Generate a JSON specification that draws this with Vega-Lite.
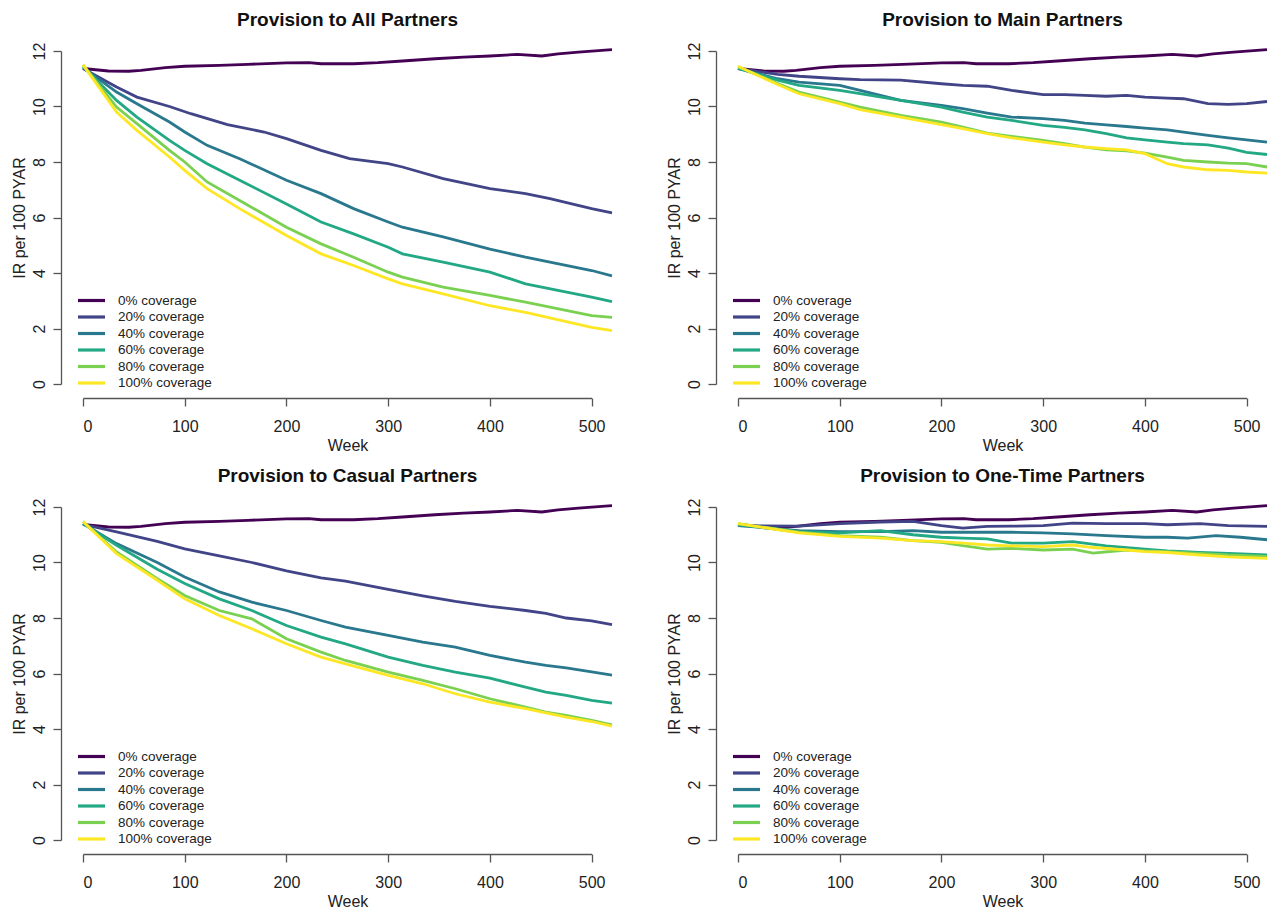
{
  "$schema": "https://vega.github.io/schema/vega-lite/v6.json",
  "background": "white",
  "padding": {"left": 11, "top": 11, "right": 0, "bottom": 0},
  "config": {
    "font": "Liberation Sans",
    "view": {"stroke": null},
    "title": {"fontSize": 19, "fontWeight": "bold", "color": "#111", "anchor": "middle", "offset": 12},
    "axis": {"grid": false, "domainColor": "#555", "tickColor": "#555", "labelColor": "#222", "titleColor": "#222", "labelFontSize": 16, "titleFontSize": 16, "titleFontWeight": "normal", "tickSize": 8, "domainWidth": 1.3, "tickWidth": 1.3},
    "axisX": {"offset": 14, "labelPadding": 12, "titlePadding": 3, "domainDash": [508.5, 1000]},
    "axisY": {"offset": 22, "labelAngle": -90, "labelPadding": 6, "titlePadding": 4},
    "legend": {"orient": "none", "legendX": 0, "legendY": 241, "symbolType": "M-2,0H2", "symbolSize": 182, "symbolStrokeWidth": 3.2, "labelFontSize": 13.5, "labelColor": "#222", "rowPadding": 1.5, "labelOffset": 18, "padding": 0}
  },
  "columns": 2,
  "bounds": "flush",
  "spacing": {"row": 123, "column": 126},
  "resolve": {"legend": {"color": "independent"}},
  "data": {"name": "d"},
  "datasets": {
    "d": [
      {"p":"B","c":"0% coverage","w":0,"v":11.37},{"p":"B","c":"0% coverage","w":25,"v":11.28},{"p":"B","c":"0% coverage","w":45,"v":11.27},{"p":"B","c":"0% coverage","w":57,"v":11.3},{"p":"B","c":"0% coverage","w":81,"v":11.4},{"p":"B","c":"0% coverage","w":100,"v":11.45},{"p":"B","c":"0% coverage","w":134,"v":11.48},{"p":"B","c":"0% coverage","w":162,"v":11.52},{"p":"B","c":"0% coverage","w":200,"v":11.57},{"p":"B","c":"0% coverage","w":222,"v":11.58},{"p":"B","c":"0% coverage","w":234,"v":11.54},{"p":"B","c":"0% coverage","w":266,"v":11.54},{"p":"B","c":"0% coverage","w":290,"v":11.58},{"p":"B","c":"0% coverage","w":314,"v":11.64},{"p":"B","c":"0% coverage","w":346,"v":11.72},{"p":"B","c":"0% coverage","w":374,"v":11.78},{"p":"B","c":"0% coverage","w":400,"v":11.82},{"p":"B","c":"0% coverage","w":427,"v":11.88},{"p":"B","c":"0% coverage","w":451,"v":11.82},{"p":"B","c":"0% coverage","w":467,"v":11.9},{"p":"B","c":"0% coverage","w":487,"v":11.96},{"p":"B","c":"0% coverage","w":520,"v":12.05},

      {"p":"A","c":"20% coverage","w":0,"v":11.37},{"p":"A","c":"20% coverage","w":33,"v":10.7},{"p":"A","c":"20% coverage","w":53,"v":10.34},{"p":"A","c":"20% coverage","w":85,"v":10.0},{"p":"A","c":"20% coverage","w":106,"v":9.74},{"p":"A","c":"20% coverage","w":142,"v":9.35},{"p":"A","c":"20% coverage","w":178,"v":9.08},{"p":"A","c":"20% coverage","w":200,"v":8.84},{"p":"A","c":"20% coverage","w":234,"v":8.42},{"p":"A","c":"20% coverage","w":262,"v":8.12},{"p":"A","c":"20% coverage","w":300,"v":7.94},{"p":"A","c":"20% coverage","w":314,"v":7.82},{"p":"A","c":"20% coverage","w":354,"v":7.4},{"p":"A","c":"20% coverage","w":400,"v":7.04},{"p":"A","c":"20% coverage","w":435,"v":6.86},{"p":"A","c":"20% coverage","w":459,"v":6.68},{"p":"A","c":"20% coverage","w":500,"v":6.32},{"p":"A","c":"20% coverage","w":520,"v":6.17},
      {"p":"A","c":"40% coverage","w":0,"v":11.4},{"p":"A","c":"40% coverage","w":33,"v":10.52},{"p":"A","c":"40% coverage","w":53,"v":10.1},{"p":"A","c":"40% coverage","w":85,"v":9.44},{"p":"A","c":"40% coverage","w":100,"v":9.08},{"p":"A","c":"40% coverage","w":122,"v":8.6},{"p":"A","c":"40% coverage","w":154,"v":8.12},{"p":"A","c":"40% coverage","w":200,"v":7.34},{"p":"A","c":"40% coverage","w":234,"v":6.86},{"p":"A","c":"40% coverage","w":266,"v":6.32},{"p":"A","c":"40% coverage","w":300,"v":5.84},{"p":"A","c":"40% coverage","w":314,"v":5.65},{"p":"A","c":"40% coverage","w":354,"v":5.3},{"p":"A","c":"40% coverage","w":400,"v":4.86},{"p":"A","c":"40% coverage","w":435,"v":4.57},{"p":"A","c":"40% coverage","w":500,"v":4.09},{"p":"A","c":"40% coverage","w":520,"v":3.9},
      {"p":"A","c":"60% coverage","w":0,"v":11.45},{"p":"A","c":"60% coverage","w":33,"v":10.22},{"p":"A","c":"60% coverage","w":53,"v":9.62},{"p":"A","c":"60% coverage","w":85,"v":8.78},{"p":"A","c":"60% coverage","w":100,"v":8.42},{"p":"A","c":"60% coverage","w":122,"v":7.94},{"p":"A","c":"60% coverage","w":154,"v":7.34},{"p":"A","c":"60% coverage","w":200,"v":6.49},{"p":"A","c":"60% coverage","w":234,"v":5.84},{"p":"A","c":"60% coverage","w":266,"v":5.41},{"p":"A","c":"60% coverage","w":300,"v":4.93},{"p":"A","c":"60% coverage","w":314,"v":4.69},{"p":"A","c":"60% coverage","w":354,"v":4.39},{"p":"A","c":"60% coverage","w":400,"v":4.03},{"p":"A","c":"60% coverage","w":435,"v":3.61},{"p":"A","c":"60% coverage","w":500,"v":3.13},{"p":"A","c":"60% coverage","w":520,"v":2.97},
      {"p":"A","c":"80% coverage","w":0,"v":11.5},{"p":"A","c":"80% coverage","w":33,"v":9.98},{"p":"A","c":"80% coverage","w":53,"v":9.38},{"p":"A","c":"80% coverage","w":85,"v":8.42},{"p":"A","c":"80% coverage","w":100,"v":8.0},{"p":"A","c":"80% coverage","w":122,"v":7.28},{"p":"A","c":"80% coverage","w":154,"v":6.61},{"p":"A","c":"80% coverage","w":200,"v":5.65},{"p":"A","c":"80% coverage","w":234,"v":5.05},{"p":"A","c":"80% coverage","w":266,"v":4.57},{"p":"A","c":"80% coverage","w":300,"v":4.03},{"p":"A","c":"80% coverage","w":314,"v":3.85},{"p":"A","c":"80% coverage","w":354,"v":3.49},{"p":"A","c":"80% coverage","w":400,"v":3.19},{"p":"A","c":"80% coverage","w":435,"v":2.95},{"p":"A","c":"80% coverage","w":500,"v":2.46},{"p":"A","c":"80% coverage","w":520,"v":2.4},
      {"p":"A","c":"100% coverage","w":0,"v":11.5},{"p":"A","c":"100% coverage","w":33,"v":9.8},{"p":"A","c":"100% coverage","w":53,"v":9.14},{"p":"A","c":"100% coverage","w":85,"v":8.18},{"p":"A","c":"100% coverage","w":100,"v":7.7},{"p":"A","c":"100% coverage","w":122,"v":7.04},{"p":"A","c":"100% coverage","w":154,"v":6.32},{"p":"A","c":"100% coverage","w":200,"v":5.35},{"p":"A","c":"100% coverage","w":234,"v":4.69},{"p":"A","c":"100% coverage","w":266,"v":4.27},{"p":"A","c":"100% coverage","w":300,"v":3.79},{"p":"A","c":"100% coverage","w":314,"v":3.61},{"p":"A","c":"100% coverage","w":354,"v":3.25},{"p":"A","c":"100% coverage","w":400,"v":2.82},{"p":"A","c":"100% coverage","w":435,"v":2.58},{"p":"A","c":"100% coverage","w":500,"v":2.04},{"p":"A","c":"100% coverage","w":520,"v":1.92},

      {"p":"M","c":"20% coverage","w":0,"v":11.37},{"p":"M","c":"20% coverage","w":39,"v":11.16},{"p":"M","c":"20% coverage","w":60,"v":11.09},{"p":"M","c":"20% coverage","w":100,"v":11.0},{"p":"M","c":"20% coverage","w":120,"v":10.97},{"p":"M","c":"20% coverage","w":160,"v":10.95},{"p":"M","c":"20% coverage","w":200,"v":10.82},{"p":"M","c":"20% coverage","w":221,"v":10.76},{"p":"M","c":"20% coverage","w":245,"v":10.73},{"p":"M","c":"20% coverage","w":269,"v":10.58},{"p":"M","c":"20% coverage","w":300,"v":10.43},{"p":"M","c":"20% coverage","w":321,"v":10.43},{"p":"M","c":"20% coverage","w":341,"v":10.4},{"p":"M","c":"20% coverage","w":362,"v":10.37},{"p":"M","c":"20% coverage","w":382,"v":10.4},{"p":"M","c":"20% coverage","w":400,"v":10.34},{"p":"M","c":"20% coverage","w":422,"v":10.3},{"p":"M","c":"20% coverage","w":438,"v":10.28},{"p":"M","c":"20% coverage","w":462,"v":10.1},{"p":"M","c":"20% coverage","w":482,"v":10.08},{"p":"M","c":"20% coverage","w":500,"v":10.1},{"p":"M","c":"20% coverage","w":520,"v":10.18},
      {"p":"M","c":"40% coverage","w":0,"v":11.37},{"p":"M","c":"40% coverage","w":39,"v":11.0},{"p":"M","c":"40% coverage","w":60,"v":10.88},{"p":"M","c":"40% coverage","w":100,"v":10.76},{"p":"M","c":"40% coverage","w":120,"v":10.58},{"p":"M","c":"40% coverage","w":160,"v":10.22},{"p":"M","c":"40% coverage","w":200,"v":10.04},{"p":"M","c":"40% coverage","w":221,"v":9.92},{"p":"M","c":"40% coverage","w":245,"v":9.76},{"p":"M","c":"40% coverage","w":269,"v":9.62},{"p":"M","c":"40% coverage","w":300,"v":9.56},{"p":"M","c":"40% coverage","w":321,"v":9.5},{"p":"M","c":"40% coverage","w":341,"v":9.4},{"p":"M","c":"40% coverage","w":362,"v":9.34},{"p":"M","c":"40% coverage","w":382,"v":9.28},{"p":"M","c":"40% coverage","w":400,"v":9.22},{"p":"M","c":"40% coverage","w":422,"v":9.16},{"p":"M","c":"40% coverage","w":438,"v":9.08},{"p":"M","c":"40% coverage","w":462,"v":8.96},{"p":"M","c":"40% coverage","w":482,"v":8.87},{"p":"M","c":"40% coverage","w":500,"v":8.8},{"p":"M","c":"40% coverage","w":520,"v":8.72},
      {"p":"M","c":"60% coverage","w":0,"v":11.37},{"p":"M","c":"60% coverage","w":39,"v":10.95},{"p":"M","c":"60% coverage","w":60,"v":10.76},{"p":"M","c":"60% coverage","w":100,"v":10.58},{"p":"M","c":"60% coverage","w":120,"v":10.46},{"p":"M","c":"60% coverage","w":160,"v":10.22},{"p":"M","c":"60% coverage","w":200,"v":9.98},{"p":"M","c":"60% coverage","w":221,"v":9.8},{"p":"M","c":"60% coverage","w":245,"v":9.62},{"p":"M","c":"60% coverage","w":269,"v":9.5},{"p":"M","c":"60% coverage","w":300,"v":9.32},{"p":"M","c":"60% coverage","w":321,"v":9.25},{"p":"M","c":"60% coverage","w":341,"v":9.16},{"p":"M","c":"60% coverage","w":362,"v":9.02},{"p":"M","c":"60% coverage","w":382,"v":8.87},{"p":"M","c":"60% coverage","w":400,"v":8.8},{"p":"M","c":"60% coverage","w":422,"v":8.72},{"p":"M","c":"60% coverage","w":438,"v":8.66},{"p":"M","c":"60% coverage","w":462,"v":8.62},{"p":"M","c":"60% coverage","w":482,"v":8.5},{"p":"M","c":"60% coverage","w":500,"v":8.35},{"p":"M","c":"60% coverage","w":520,"v":8.27},
      {"p":"M","c":"80% coverage","w":0,"v":11.43},{"p":"M","c":"80% coverage","w":39,"v":10.83},{"p":"M","c":"80% coverage","w":60,"v":10.52},{"p":"M","c":"80% coverage","w":100,"v":10.16},{"p":"M","c":"80% coverage","w":120,"v":9.98},{"p":"M","c":"80% coverage","w":160,"v":9.68},{"p":"M","c":"80% coverage","w":200,"v":9.44},{"p":"M","c":"80% coverage","w":221,"v":9.26},{"p":"M","c":"80% coverage","w":245,"v":9.04},{"p":"M","c":"80% coverage","w":269,"v":8.92},{"p":"M","c":"80% coverage","w":300,"v":8.78},{"p":"M","c":"80% coverage","w":321,"v":8.66},{"p":"M","c":"80% coverage","w":341,"v":8.54},{"p":"M","c":"80% coverage","w":362,"v":8.44},{"p":"M","c":"80% coverage","w":382,"v":8.4},{"p":"M","c":"80% coverage","w":400,"v":8.32},{"p":"M","c":"80% coverage","w":422,"v":8.18},{"p":"M","c":"80% coverage","w":438,"v":8.06},{"p":"M","c":"80% coverage","w":462,"v":8.0},{"p":"M","c":"80% coverage","w":482,"v":7.96},{"p":"M","c":"80% coverage","w":500,"v":7.94},{"p":"M","c":"80% coverage","w":520,"v":7.82},
      {"p":"M","c":"100% coverage","w":0,"v":11.45},{"p":"M","c":"100% coverage","w":39,"v":10.79},{"p":"M","c":"100% coverage","w":60,"v":10.46},{"p":"M","c":"100% coverage","w":100,"v":10.1},{"p":"M","c":"100% coverage","w":120,"v":9.89},{"p":"M","c":"100% coverage","w":160,"v":9.62},{"p":"M","c":"100% coverage","w":200,"v":9.35},{"p":"M","c":"100% coverage","w":221,"v":9.2},{"p":"M","c":"100% coverage","w":245,"v":9.02},{"p":"M","c":"100% coverage","w":269,"v":8.87},{"p":"M","c":"100% coverage","w":300,"v":8.72},{"p":"M","c":"100% coverage","w":321,"v":8.62},{"p":"M","c":"100% coverage","w":341,"v":8.54},{"p":"M","c":"100% coverage","w":362,"v":8.48},{"p":"M","c":"100% coverage","w":382,"v":8.44},{"p":"M","c":"100% coverage","w":400,"v":8.3},{"p":"M","c":"100% coverage","w":422,"v":7.94},{"p":"M","c":"100% coverage","w":438,"v":7.82},{"p":"M","c":"100% coverage","w":462,"v":7.72},{"p":"M","c":"100% coverage","w":482,"v":7.7},{"p":"M","c":"100% coverage","w":500,"v":7.64},{"p":"M","c":"100% coverage","w":520,"v":7.6},

      {"p":"C","c":"20% coverage","w":0,"v":11.37},{"p":"C","c":"20% coverage","w":33,"v":11.1},{"p":"C","c":"20% coverage","w":73,"v":10.76},{"p":"C","c":"20% coverage","w":100,"v":10.49},{"p":"C","c":"20% coverage","w":134,"v":10.24},{"p":"C","c":"20% coverage","w":166,"v":10.0},{"p":"C","c":"20% coverage","w":200,"v":9.7},{"p":"C","c":"20% coverage","w":234,"v":9.45},{"p":"C","c":"20% coverage","w":258,"v":9.33},{"p":"C","c":"20% coverage","w":300,"v":9.03},{"p":"C","c":"20% coverage","w":334,"v":8.8},{"p":"C","c":"20% coverage","w":366,"v":8.6},{"p":"C","c":"20% coverage","w":400,"v":8.42},{"p":"C","c":"20% coverage","w":435,"v":8.27},{"p":"C","c":"20% coverage","w":455,"v":8.17},{"p":"C","c":"20% coverage","w":475,"v":8.0},{"p":"C","c":"20% coverage","w":500,"v":7.9},{"p":"C","c":"20% coverage","w":520,"v":7.76},
      {"p":"C","c":"40% coverage","w":0,"v":11.4},{"p":"C","c":"40% coverage","w":33,"v":10.68},{"p":"C","c":"40% coverage","w":73,"v":10.0},{"p":"C","c":"40% coverage","w":100,"v":9.48},{"p":"C","c":"40% coverage","w":134,"v":8.94},{"p":"C","c":"40% coverage","w":166,"v":8.57},{"p":"C","c":"40% coverage","w":200,"v":8.27},{"p":"C","c":"40% coverage","w":234,"v":7.91},{"p":"C","c":"40% coverage","w":258,"v":7.67},{"p":"C","c":"40% coverage","w":300,"v":7.37},{"p":"C","c":"40% coverage","w":334,"v":7.13},{"p":"C","c":"40% coverage","w":366,"v":6.95},{"p":"C","c":"40% coverage","w":400,"v":6.65},{"p":"C","c":"40% coverage","w":435,"v":6.41},{"p":"C","c":"40% coverage","w":455,"v":6.29},{"p":"C","c":"40% coverage","w":475,"v":6.2},{"p":"C","c":"40% coverage","w":500,"v":6.06},{"p":"C","c":"40% coverage","w":520,"v":5.94},
      {"p":"C","c":"60% coverage","w":0,"v":11.4},{"p":"C","c":"60% coverage","w":33,"v":10.62},{"p":"C","c":"60% coverage","w":73,"v":9.76},{"p":"C","c":"60% coverage","w":100,"v":9.24},{"p":"C","c":"60% coverage","w":134,"v":8.69},{"p":"C","c":"60% coverage","w":166,"v":8.27},{"p":"C","c":"60% coverage","w":200,"v":7.73},{"p":"C","c":"60% coverage","w":234,"v":7.31},{"p":"C","c":"60% coverage","w":258,"v":7.07},{"p":"C","c":"60% coverage","w":300,"v":6.59},{"p":"C","c":"60% coverage","w":334,"v":6.29},{"p":"C","c":"60% coverage","w":366,"v":6.05},{"p":"C","c":"60% coverage","w":400,"v":5.83},{"p":"C","c":"60% coverage","w":435,"v":5.51},{"p":"C","c":"60% coverage","w":455,"v":5.33},{"p":"C","c":"60% coverage","w":475,"v":5.21},{"p":"C","c":"60% coverage","w":500,"v":5.03},{"p":"C","c":"60% coverage","w":520,"v":4.93},
      {"p":"C","c":"80% coverage","w":0,"v":11.48},{"p":"C","c":"80% coverage","w":33,"v":10.38},{"p":"C","c":"80% coverage","w":73,"v":9.42},{"p":"C","c":"80% coverage","w":100,"v":8.81},{"p":"C","c":"80% coverage","w":134,"v":8.27},{"p":"C","c":"80% coverage","w":166,"v":7.97},{"p":"C","c":"80% coverage","w":200,"v":7.25},{"p":"C","c":"80% coverage","w":234,"v":6.77},{"p":"C","c":"80% coverage","w":258,"v":6.47},{"p":"C","c":"80% coverage","w":300,"v":6.05},{"p":"C","c":"80% coverage","w":334,"v":5.75},{"p":"C","c":"80% coverage","w":366,"v":5.45},{"p":"C","c":"80% coverage","w":400,"v":5.09},{"p":"C","c":"80% coverage","w":435,"v":4.79},{"p":"C","c":"80% coverage","w":455,"v":4.61},{"p":"C","c":"80% coverage","w":475,"v":4.49},{"p":"C","c":"80% coverage","w":500,"v":4.31},{"p":"C","c":"80% coverage","w":520,"v":4.15},
      {"p":"C","c":"100% coverage","w":0,"v":11.48},{"p":"C","c":"100% coverage","w":33,"v":10.32},{"p":"C","c":"100% coverage","w":73,"v":9.36},{"p":"C","c":"100% coverage","w":100,"v":8.69},{"p":"C","c":"100% coverage","w":134,"v":8.09},{"p":"C","c":"100% coverage","w":166,"v":7.61},{"p":"C","c":"100% coverage","w":200,"v":7.07},{"p":"C","c":"100% coverage","w":234,"v":6.59},{"p":"C","c":"100% coverage","w":258,"v":6.35},{"p":"C","c":"100% coverage","w":300,"v":5.93},{"p":"C","c":"100% coverage","w":334,"v":5.63},{"p":"C","c":"100% coverage","w":366,"v":5.27},{"p":"C","c":"100% coverage","w":400,"v":4.97},{"p":"C","c":"100% coverage","w":435,"v":4.73},{"p":"C","c":"100% coverage","w":455,"v":4.58},{"p":"C","c":"100% coverage","w":475,"v":4.43},{"p":"C","c":"100% coverage","w":500,"v":4.27},{"p":"C","c":"100% coverage","w":520,"v":4.1},

      {"p":"O","c":"20% coverage","w":0,"v":11.33},{"p":"O","c":"20% coverage","w":60,"v":11.31},{"p":"O","c":"20% coverage","w":100,"v":11.4},{"p":"O","c":"20% coverage","w":140,"v":11.46},{"p":"O","c":"20% coverage","w":172,"v":11.48},{"p":"O","c":"20% coverage","w":200,"v":11.33},{"p":"O","c":"20% coverage","w":221,"v":11.24},{"p":"O","c":"20% coverage","w":245,"v":11.3},{"p":"O","c":"20% coverage","w":269,"v":11.31},{"p":"O","c":"20% coverage","w":300,"v":11.33},{"p":"O","c":"20% coverage","w":329,"v":11.42},{"p":"O","c":"20% coverage","w":362,"v":11.4},{"p":"O","c":"20% coverage","w":400,"v":11.4},{"p":"O","c":"20% coverage","w":422,"v":11.36},{"p":"O","c":"20% coverage","w":454,"v":11.4},{"p":"O","c":"20% coverage","w":482,"v":11.33},{"p":"O","c":"20% coverage","w":520,"v":11.3},
      {"p":"O","c":"40% coverage","w":0,"v":11.33},{"p":"O","c":"40% coverage","w":60,"v":11.15},{"p":"O","c":"40% coverage","w":100,"v":11.11},{"p":"O","c":"40% coverage","w":140,"v":11.11},{"p":"O","c":"40% coverage","w":172,"v":11.15},{"p":"O","c":"40% coverage","w":200,"v":11.09},{"p":"O","c":"40% coverage","w":221,"v":11.09},{"p":"O","c":"40% coverage","w":245,"v":11.09},{"p":"O","c":"40% coverage","w":269,"v":11.09},{"p":"O","c":"40% coverage","w":300,"v":11.07},{"p":"O","c":"40% coverage","w":329,"v":11.03},{"p":"O","c":"40% coverage","w":362,"v":10.97},{"p":"O","c":"40% coverage","w":400,"v":10.91},{"p":"O","c":"40% coverage","w":422,"v":10.91},{"p":"O","c":"40% coverage","w":442,"v":10.88},{"p":"O","c":"40% coverage","w":470,"v":10.97},{"p":"O","c":"40% coverage","w":494,"v":10.91},{"p":"O","c":"40% coverage","w":520,"v":10.82},
      {"p":"O","c":"60% coverage","w":0,"v":11.36},{"p":"O","c":"60% coverage","w":60,"v":11.11},{"p":"O","c":"60% coverage","w":100,"v":11.07},{"p":"O","c":"60% coverage","w":140,"v":11.15},{"p":"O","c":"60% coverage","w":172,"v":11.0},{"p":"O","c":"60% coverage","w":200,"v":10.91},{"p":"O","c":"60% coverage","w":221,"v":10.88},{"p":"O","c":"60% coverage","w":245,"v":10.85},{"p":"O","c":"60% coverage","w":269,"v":10.7},{"p":"O","c":"60% coverage","w":300,"v":10.7},{"p":"O","c":"60% coverage","w":329,"v":10.75},{"p":"O","c":"60% coverage","w":362,"v":10.6},{"p":"O","c":"60% coverage","w":400,"v":10.48},{"p":"O","c":"60% coverage","w":422,"v":10.42},{"p":"O","c":"60% coverage","w":454,"v":10.36},{"p":"O","c":"60% coverage","w":482,"v":10.33},{"p":"O","c":"60% coverage","w":520,"v":10.27},
      {"p":"O","c":"80% coverage","w":0,"v":11.4},{"p":"O","c":"80% coverage","w":60,"v":11.09},{"p":"O","c":"80% coverage","w":100,"v":10.97},{"p":"O","c":"80% coverage","w":140,"v":10.91},{"p":"O","c":"80% coverage","w":172,"v":10.79},{"p":"O","c":"80% coverage","w":200,"v":10.73},{"p":"O","c":"80% coverage","w":221,"v":10.61},{"p":"O","c":"80% coverage","w":245,"v":10.48},{"p":"O","c":"80% coverage","w":269,"v":10.51},{"p":"O","c":"80% coverage","w":300,"v":10.45},{"p":"O","c":"80% coverage","w":329,"v":10.48},{"p":"O","c":"80% coverage","w":349,"v":10.34},{"p":"O","c":"80% coverage","w":382,"v":10.45},{"p":"O","c":"80% coverage","w":400,"v":10.42},{"p":"O","c":"80% coverage","w":422,"v":10.39},{"p":"O","c":"80% coverage","w":454,"v":10.33},{"p":"O","c":"80% coverage","w":482,"v":10.27},{"p":"O","c":"80% coverage","w":520,"v":10.22},
      {"p":"O","c":"100% coverage","w":0,"v":11.4},{"p":"O","c":"100% coverage","w":60,"v":11.07},{"p":"O","c":"100% coverage","w":100,"v":10.94},{"p":"O","c":"100% coverage","w":140,"v":10.88},{"p":"O","c":"100% coverage","w":172,"v":10.79},{"p":"O","c":"100% coverage","w":200,"v":10.75},{"p":"O","c":"100% coverage","w":221,"v":10.7},{"p":"O","c":"100% coverage","w":245,"v":10.63},{"p":"O","c":"100% coverage","w":269,"v":10.6},{"p":"O","c":"100% coverage","w":300,"v":10.57},{"p":"O","c":"100% coverage","w":329,"v":10.63},{"p":"O","c":"100% coverage","w":349,"v":10.54},{"p":"O","c":"100% coverage","w":382,"v":10.45},{"p":"O","c":"100% coverage","w":400,"v":10.39},{"p":"O","c":"100% coverage","w":422,"v":10.36},{"p":"O","c":"100% coverage","w":454,"v":10.27},{"p":"O","c":"100% coverage","w":482,"v":10.2},{"p":"O","c":"100% coverage","w":520,"v":10.15}
    ]
  },
  "concat": [
    {
      "title": "Provision to All Partners",
      "width": 529, "height": 333,
      "transform": [{"filter": "datum.p == 'B' || datum.p == 'A'"}],
      "mark": {"type": "line", "strokeWidth": 2.8, "clip": false},
      "encoding": {
        "x": {"field": "w", "type": "quantitative", "title": "Week", "scale": {"domain": [0, 520], "nice": false, "zero": false}, "axis": {"values": [0, 100, 200, 300, 400, 500]}},
        "y": {"field": "v", "type": "quantitative", "title": "IR per 100 PYAR", "scale": {"domain": [0, 12], "nice": false}, "axis": {"values": [0, 2, 4, 6, 8, 10, 12]}},
        "color": {"field": "c", "type": "nominal", "title": null, "scale": {"domain": ["0% coverage", "20% coverage", "40% coverage", "60% coverage", "80% coverage", "100% coverage"], "range": ["#440154", "#414487", "#2A788E", "#22A884", "#7AD151", "#FDE725"]}}
      }
    },
    {
      "title": "Provision to Main Partners",
      "width": 529, "height": 333,
      "transform": [{"filter": "datum.p == 'B' || datum.p == 'M'"}],
      "mark": {"type": "line", "strokeWidth": 2.8, "clip": false},
      "encoding": {
        "x": {"field": "w", "type": "quantitative", "title": "Week", "scale": {"domain": [0, 520], "nice": false, "zero": false}, "axis": {"values": [0, 100, 200, 300, 400, 500]}},
        "y": {"field": "v", "type": "quantitative", "title": "IR per 100 PYAR", "scale": {"domain": [0, 12], "nice": false}, "axis": {"values": [0, 2, 4, 6, 8, 10, 12]}},
        "color": {"field": "c", "type": "nominal", "title": null, "scale": {"domain": ["0% coverage", "20% coverage", "40% coverage", "60% coverage", "80% coverage", "100% coverage"], "range": ["#440154", "#414487", "#2A788E", "#22A884", "#7AD151", "#FDE725"]}}
      }
    },
    {
      "title": "Provision to Casual Partners",
      "width": 529, "height": 333,
      "transform": [{"filter": "datum.p == 'B' || datum.p == 'C'"}],
      "mark": {"type": "line", "strokeWidth": 2.8, "clip": false},
      "encoding": {
        "x": {"field": "w", "type": "quantitative", "title": "Week", "scale": {"domain": [0, 520], "nice": false, "zero": false}, "axis": {"values": [0, 100, 200, 300, 400, 500]}},
        "y": {"field": "v", "type": "quantitative", "title": "IR per 100 PYAR", "scale": {"domain": [0, 12], "nice": false}, "axis": {"values": [0, 2, 4, 6, 8, 10, 12]}},
        "color": {"field": "c", "type": "nominal", "title": null, "scale": {"domain": ["0% coverage", "20% coverage", "40% coverage", "60% coverage", "80% coverage", "100% coverage"], "range": ["#440154", "#414487", "#2A788E", "#22A884", "#7AD151", "#FDE725"]}}
      }
    },
    {
      "title": "Provision to One-Time Partners",
      "width": 529, "height": 333,
      "transform": [{"filter": "datum.p == 'B' || datum.p == 'O'"}],
      "mark": {"type": "line", "strokeWidth": 2.8, "clip": false},
      "encoding": {
        "x": {"field": "w", "type": "quantitative", "title": "Week", "scale": {"domain": [0, 520], "nice": false, "zero": false}, "axis": {"values": [0, 100, 200, 300, 400, 500]}},
        "y": {"field": "v", "type": "quantitative", "title": "IR per 100 PYAR", "scale": {"domain": [0, 12], "nice": false}, "axis": {"values": [0, 2, 4, 6, 8, 10, 12]}},
        "color": {"field": "c", "type": "nominal", "title": null, "scale": {"domain": ["0% coverage", "20% coverage", "40% coverage", "60% coverage", "80% coverage", "100% coverage"], "range": ["#440154", "#414487", "#2A788E", "#22A884", "#7AD151", "#FDE725"]}}
      }
    }
  ]
}
